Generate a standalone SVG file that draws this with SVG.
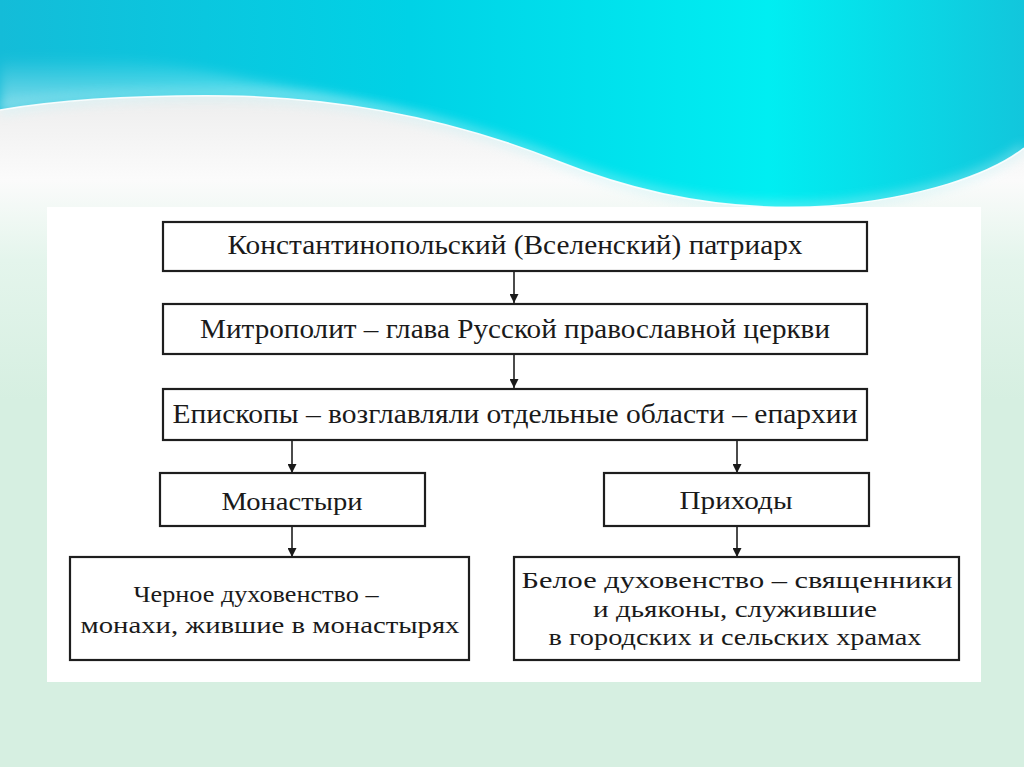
<svg xmlns="http://www.w3.org/2000/svg" width="1024" height="767" viewBox="0 0 1024 767">
<defs>
<linearGradient id="cy" x1="0" y1="0" x2="1" y2="0">
<stop offset="0" stop-color="#14bcd8"/>
<stop offset="0.4" stop-color="#00d2e6"/>
<stop offset="0.75" stop-color="#00eef2"/>
<stop offset="1" stop-color="#12c6dc"/>
</linearGradient>
<linearGradient id="wh" x1="0" y1="0" x2="0" y2="1">
<stop offset="0.25" stop-color="#eeeeee"/>
<stop offset="0.45" stop-color="#fbfbfb"/>
<stop offset="0.65" stop-color="#e4f5ec"/>
<stop offset="1" stop-color="#d6efe1"/>
</linearGradient>
<linearGradient id="fade" x1="0" y1="0" x2="0" y2="1">
<stop offset="0" stop-color="#ffffff" stop-opacity="0"/>
<stop offset="1" stop-color="#ffffff" stop-opacity="0.95"/>
</linearGradient>
<filter id="bl" x="-10%" y="-50%" width="120%" height="200%"><feGaussianBlur stdDeviation="6"/></filter>
<marker id="ah" viewBox="0 0 10 10" refX="10" refY="5" markerWidth="9" markerHeight="9" markerUnits="userSpaceOnUse" orient="auto">
<path d="M0,0 L10,5 L0,10 Z" fill="#1a1a1a"/>
</marker>
<style>
.box{fill:#ffffff;stroke:#1e1e1e;stroke-width:2.2}
.t{font-family:"Liberation Serif","Times New Roman",serif;fill:#1a1a1a;text-anchor:middle}
.c{stroke:#1e1e1e;stroke-width:1.6;fill:none;marker-end:url(#ah)}
</style>
</defs>
<g id="background">
<rect x="0" y="0" width="1024" height="767" fill="#d6efe1"/>
<rect x="0" y="0" width="1024" height="400" fill="url(#wh)"/>
<path d="M0,0 H1024 V148 C990,175 920,198 830,206 C740,212 650,198 560,162 C460,122 350,98 230,96 C140,95 60,100 0,110 Z" fill="url(#cy)"/>
<path d="M0,60 C80,50 160,60 250,80 C360,100 450,120 540,155 L560,162 C460,122 350,98 230,96 C140,95 60,100 0,110 Z" fill="url(#fade)" filter="url(#bl)"/>
<path d="M0,110 C60,100 140,95 230,96 C350,98 460,122 560,162 C650,198 740,212 830,206 C920,198 990,175 1024,148" fill="none" stroke="#bff2f6" stroke-width="6" opacity="0.7" filter="url(#bl)"/>
<path d="M0,110 C60,100 140,95 230,96 C350,98 460,122 560,162 C650,198 740,212 830,206 C920,198 990,175 1024,148" fill="none" stroke="#ffffff" stroke-width="1.5" opacity="0.9"/>
<rect x="47" y="207" width="934" height="475" fill="#ffffff"/>
</g>
<g id="connectors">
<line class="c" x1="514" y1="271" x2="514" y2="303"/>
<line class="c" x1="514" y1="354" x2="514" y2="388"/>
<line class="c" x1="292" y1="440" x2="292" y2="473"/>
<line class="c" x1="737" y1="440" x2="737" y2="473"/>
<line class="c" x1="292" y1="526" x2="292" y2="557"/>
<line class="c" x1="737" y1="526" x2="737" y2="557"/>
</g>
<g id="patriarch">
<rect class="box" x="163" y="222" width="704" height="49"/>
<text class="t" x="515" y="254" font-size="28" textLength="575" lengthAdjust="spacingAndGlyphs">Константинопольский (Вселенский) патриарх</text>
</g>
<g id="metropolitan">
<rect class="box" x="163" y="304" width="704" height="50"/>
<text class="t" x="515" y="338" font-size="28" textLength="630" lengthAdjust="spacingAndGlyphs">Митрополит – глава Русской православной церкви</text>
</g>
<g id="bishops">
<rect class="box" x="163" y="389" width="704" height="51"/>
<text class="t" x="515" y="423" font-size="27" textLength="685" lengthAdjust="spacingAndGlyphs">Епископы – возглавляли отдельные области – епархии</text>
</g>
<g id="monasteries">
<rect class="box" x="160" y="473" width="265" height="53"/>
<text class="t" x="292" y="510" font-size="26" textLength="141" lengthAdjust="spacingAndGlyphs">Монастыри</text>
</g>
<g id="parishes">
<rect class="box" x="604" y="473" width="265" height="53"/>
<text class="t" x="736" y="509" font-size="26" textLength="113" lengthAdjust="spacingAndGlyphs">Приходы</text>
</g>
<g id="black-clergy">
<rect class="box" x="70" y="557" width="399" height="103"/>
<text class="t" x="256" y="602" font-size="24" textLength="245" lengthAdjust="spacingAndGlyphs">Черное духовенство –</text>
<text class="t" x="270" y="633" font-size="24" textLength="379" lengthAdjust="spacingAndGlyphs">монахи, жившие в монастырях</text>
</g>
<g id="white-clergy">
<rect class="box" x="514" y="557" width="445" height="103"/>
<text class="t" x="737" y="588" font-size="24" textLength="431" lengthAdjust="spacingAndGlyphs">Белое духовенство – священники</text>
<text class="t" x="735" y="617" font-size="24" textLength="284" lengthAdjust="spacingAndGlyphs">и дьяконы, служившие</text>
<text class="t" x="735" y="645" font-size="24" textLength="373" lengthAdjust="spacingAndGlyphs">в городских и сельских храмах</text>
</g>
</svg>
